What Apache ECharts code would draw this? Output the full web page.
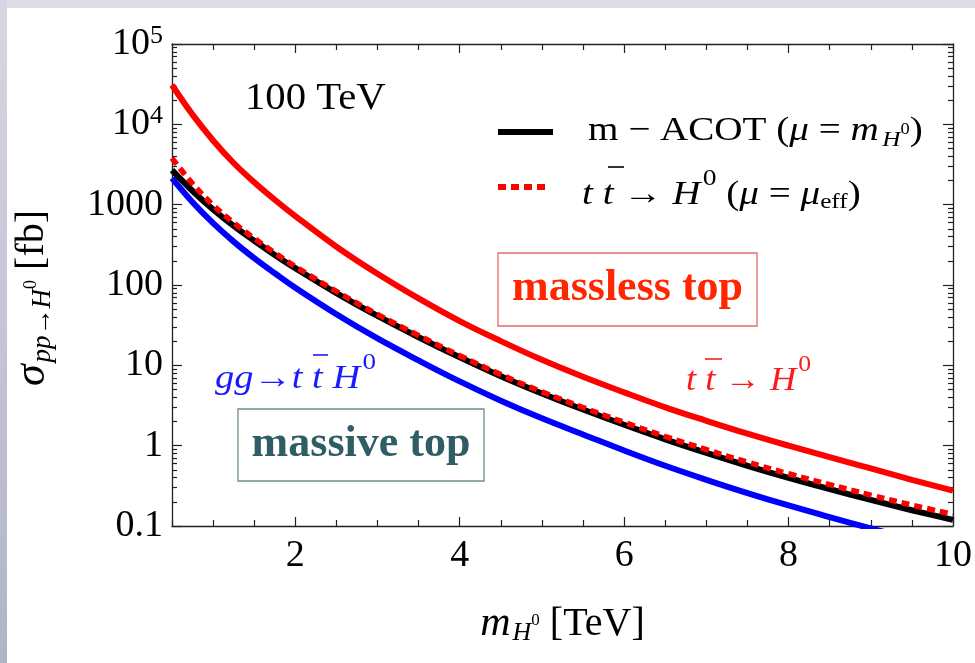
<!DOCTYPE html>
<html>
<head>
<meta charset="utf-8">
<script src="https://cdn.jsdelivr.net/npm/echarts@6/dist/echarts.min.js"></script>
<style>
  html, body { margin: 0; padding: 0; background: #ffffff; }
  #chart { width: 975px; height: 663px; }
</style>
</head>
<body>
<div id="chart"></div>
<script>
// Heavy Higgs production at 100 TeV: cross sections (fb) vs. Higgs mass (TeV)
const massTeV = [0.5, 0.75, 1, 1.25, 1.5, 1.75, 2, 2.5, 3, 3.5, 4, 4.5, 5, 5.5, 6, 6.5, 7, 7.5, 8, 8.5, 9, 9.5, 10];
const sigmaMassless = [30900, 13200, 6300, 3300, 1900, 1150, 720, 300, 138, 68, 35.5, 20, 11.7, 7.2, 4.6, 3.0, 2.04, 1.41, 1.0, 0.72, 0.52, 0.376, 0.275];
const sigmaMACOT = [2690, 1480, 871, 543, 355, 237, 162, 79.4, 41.2, 22.4, 12.6, 7.33, 4.47, 2.82, 1.82, 1.20, 0.813, 0.562, 0.398, 0.288, 0.211, 0.157, 0.119];
const sigmaMuEff = [3800, 1820, 989, 595, 381, 251, 170, 83.1, 43.1, 23.5, 13.2, 7.67, 4.68, 2.99, 1.95, 1.30, 0.892, 0.623, 0.447, 0.327, 0.242, 0.182, 0.140];
const sigmaGGttH = [2138, 1072, 589, 347, 216, 140, 92.3, 43.2, 21.6, 11.5, 6.31, 3.63, 2.19, 1.38, 0.871, 0.562, 0.376, 0.257, 0.180, 0.129, 0.0933, 0.0687, 0.0513];

const xMajorTicks = [2, 4, 6, 8, 10];
const xMinorTicks = [0.5, 1, 1.5, 2.5, 3, 3.5, 4.5, 5, 5.5, 6.5, 7, 7.5, 8.5, 9, 9.5];
const yDecades = [0.1, 1, 10, 100, 1000, 10000, 100000];
const yDecadeLabels = ['0.1', '1', '10', '100', '1000', '10{sup|4}', '10{sup|5}'];

const yMinorTicks = [];
yDecades.slice(0, -1).forEach(d => { for (let k = 2; k <= 9; k++) yMinorTicks.push(+(d * k).toPrecision(3)); });

const pairs = ys => massTeV.map((x, i) => [x, ys[i]]);

const SERIF = "'Liberation Serif', 'Times New Roman', serif";
const AXIS_COLOR = '#222';

const chart = echarts.init(document.getElementById('chart'), null, { renderer: 'canvas' });

function xAxisDef(position, ticks, len, showLine, showLabels) {
  return {
    type: 'value', min: 0.5, max: 10, position,
    axisLine: { show: showLine, onZero: false, lineStyle: { color: AXIS_COLOR, width: 1.3 } },
    axisTick: { show: true, inside: true, length: len, customValues: ticks, lineStyle: { color: AXIS_COLOR, width: 1.2 } },
    axisLabel: showLabels ? {
      show: true, customValues: xMajorTicks, margin: 11,
      fontFamily: SERIF, fontSize: 38, color: '#000'
    } : { show: false },
    splitLine: { show: false }
  };
}

function yAxisDef(position, ticks, len, showLine, showLabels) {
  return {
    type: 'log', logBase: 10, min: 0.1, max: 100000, position,
    axisLine: { show: showLine, onZero: false, lineStyle: { color: AXIS_COLOR, width: 1.3 } },
    axisTick: { show: true, inside: true, length: len, customValues: ticks, lineStyle: { color: AXIS_COLOR, width: 1.2 } },
    axisLabel: showLabels ? {
      show: true, customValues: yDecades, margin: 9,
      fontFamily: SERIF, fontSize: 38, color: '#000',
      formatter: v => yDecadeLabels[yDecades.findIndex(d => Math.abs(Math.log10(d) - Math.log10(v)) < 1e-6)],
      rich: {
        sup: { fontFamily: SERIF, fontSize: 26, color: '#000', padding: [0, 0, 16, 0] }
      }
    } : { show: false },
    splitLine: { show: false }
  };
}

const xAxes = [
  xAxisDef('bottom', xMajorTicks, 9, true, true),
  xAxisDef('bottom', xMinorTicks, 6, false, false),
  xAxisDef('top', xMajorTicks, 9, true, false),
  xAxisDef('top', xMinorTicks, 6, false, false)
];
xAxes[0].name = '{i|m}{sub|H}{sup|0}{r| [TeV]}';
xAxes[0].nameLocation = 'middle';
xAxes[0].nameGap = 76;
xAxes[0].nameTextStyle = {
  fontFamily: SERIF, fontSize: 40, color: '#000',
  rich: {
    i: { fontFamily: SERIF, fontSize: 42, fontStyle: 'italic', color: '#000' },
    sub: { fontFamily: SERIF, fontSize: 26, fontStyle: 'italic', color: '#000', padding: [18, 0, 0, 2] },
    sup: { fontFamily: SERIF, fontSize: 17, color: '#000', padding: [0, 0, 6, 0] },
    r: { fontFamily: SERIF, fontSize: 40, color: '#000' }
  }
};

const yAxes = [
  yAxisDef('left', yDecades, 10, true, true),
  yAxisDef('left', yMinorTicks, 5, false, false),
  yAxisDef('right', yDecades, 10, true, false),
  yAxisDef('right', yMinorTicks, 5, false, false)
];
yAxes[0].name = '{i|σ}{sub|pp→H}{sup|0}{r| [fb]}';
yAxes[0].nameLocation = 'middle';
yAxes[0].nameRotate = 90;
yAxes[0].nameGap = 116;
yAxes[0].nameTextStyle = {
  fontFamily: SERIF, fontSize: 40, color: '#000', padding: [0, 26, 0, 0],
  rich: {
    i: { fontFamily: SERIF, fontSize: 44, fontStyle: 'italic', color: '#000' },
    sub: { fontFamily: SERIF, fontSize: 27, fontStyle: 'italic', color: '#000', padding: [20, 0, 0, 2] },
    sup: { fontFamily: SERIF, fontSize: 18, color: '#000', padding: [0, 0, 2, 0] },
    r: { fontFamily: SERIF, fontSize: 40, color: '#000' }
  }
};

function curve(name, ys, color, width, dash, z) {
  return {
    name, type: 'line', xAxisIndex: 0, yAxisIndex: 0,
    data: pairs(ys), smooth: 0.4, symbol: 'none', clip: true, z,
    lineStyle: { color, width, type: dash || 'solid', cap: 'butt' }
  };
}

// rich text helpers for the in-plot labels
function tok(size, opts) {
  return Object.assign({ fontFamily: SERIF, fontSize: size }, opts || {});
}
function richText(x, y, text, fill, rich, sx) {
  const r = {};
  Object.keys(rich).forEach(k => { r[k] = Object.assign({ fill }, rich[k]); });
  return {
    type: 'text', x, y, z: 100, scaleX: sx || 1,
    style: { text, fill, font: `34px ${SERIF}`, align: 'left', verticalAlign: 'middle', rich: r }
  };
}

const graphics = [
  // page frame strips
  { type: 'rect', shape: { x: 0, y: 0, width: 975, height: 8 }, style: { fill: '#dcdde6' }, z: 0 },
  { type: 'rect', shape: { x: 0, y: 0, width: 7, height: 663 },
    style: { fill: new echarts.graphic.LinearGradient(0, 0, 0, 1, [
      { offset: 0, color: '#d6d7e2' }, { offset: 1, color: '#b1b3c8' }]) }, z: 0 },

  // energy tag
  { type: 'text', x: 245, y: 99, z: 100, scaleX: 1.07,
    style: { text: '100 TeV', font: `38px ${SERIF}`, fill: '#000', align: 'left', verticalAlign: 'middle' } },

  // legend
  { type: 'line', shape: { x1: 498, y1: 132, x2: 553, y2: 132 }, style: { stroke: '#000', lineWidth: 6 }, z: 100 },
  richText(588, 131.5, '{r|m − ACOT (}{i|μ}{r| = }{i|m}{sub|H}{sup|0}{r|)}', '#000', {
    r: tok(34), i: tok(34, { fontStyle: 'italic' }),
    sub: tok(22, { fontStyle: 'italic', padding: [18, 0, 0, 3] }),
    sup: tok(16, { padding: [0, 0, 4, 0] })
  }, 1.15),
  { type: 'line', shape: { x1: 498, y1: 187, x2: 550, y2: 187 }, style: { stroke: '#ff0000', lineWidth: 6, lineDash: [8, 5] }, z: 100 },
  richText(582, 195.5, '{i|t t}{r| → }{i|H}{sup|0}{r| (}{i|μ}{r| = }{i|μ}{sub|eff}{r|)}', '#000', {
    r: tok(34), i: tok(34, { fontStyle: 'italic' }),
    sup: tok(24, { padding: [0, 0, 34, 2] }),
    sub: tok(22, { padding: [14, 0, 0, 0] })
  }, 1.15),
  { type: 'line', shape: { x1: 608, y1: 167, x2: 624, y2: 167 }, style: { stroke: '#000', lineWidth: 1.6 }, z: 100 },

  // massless / massive boxes
  { type: 'rect', shape: { x: 498, y: 253, width: 259, height: 73 }, style: { fill: 'none', stroke: '#e46a6a', lineWidth: 1.3 }, z: 100 },
  { type: 'text', x: 627.5, y: 289, z: 100,
    style: { text: 'massless top', font: `bold 44px ${SERIF}`, fill: '#ff2600', align: 'center', verticalAlign: 'middle' } },
  { type: 'rect', shape: { x: 238, y: 409, width: 246, height: 72 }, style: { fill: 'none', stroke: '#6f8c90', lineWidth: 1.3 }, z: 100 },
  { type: 'text', x: 361, y: 445, z: 100,
    style: { text: 'massive top', font: `bold 44px ${SERIF}`, fill: '#2f5d64', align: 'center', verticalAlign: 'middle' } },

  // process labels
  richText(215, 379.5, '{i|gg}{r|→}{i|t t H}{sup|0}', '#1a1aff', {
    r: tok(34), i: tok(34, { fontStyle: 'italic' }),
    sup: tok(24, { padding: [0, 0, 34, 2] })
  }, 1.13),
  { type: 'line', shape: { x1: 313, y1: 355, x2: 328, y2: 355 }, style: { stroke: '#1a1aff', lineWidth: 1.6 }, z: 100 },
  richText(686, 381.5, '{i|t t}{r| → }{i|H}{sup|0}', '#ff1a1a', {
    r: tok(34), i: tok(34, { fontStyle: 'italic' }),
    sup: tok(24, { padding: [0, 0, 34, 2] })
  }, 1.07),
  { type: 'line', shape: { x1: 705, y1: 359, x2: 722, y2: 359 }, style: { stroke: '#ff1a1a', lineWidth: 1.6 }, z: 100 }
];

chart.setOption({
  animation: false,
  backgroundColor: '#ffffff',
  grid: { left: 172, top: 44, width: 781, height: 482, containLabel: false, outerBoundsMode: 'none' },
  xAxis: xAxes,
  yAxis: yAxes,
  series: [
    curve('massless top', sigmaMassless, '#ff0000', 6, null, 2),
    curve('gg → t t̄ H⁰', sigmaGGttH, '#0000ff', 6, null, 2),
    curve('m−ACOT (μ = m_H⁰)', sigmaMACOT, '#000000', 6, null, 3),
    curve('t t̄ → H⁰ (μ = μ_eff)', sigmaMuEff, '#ff0000', 5.5, [8, 5], 4)
  ],
  graphic: graphics
});
</script>
</body>
</html>
